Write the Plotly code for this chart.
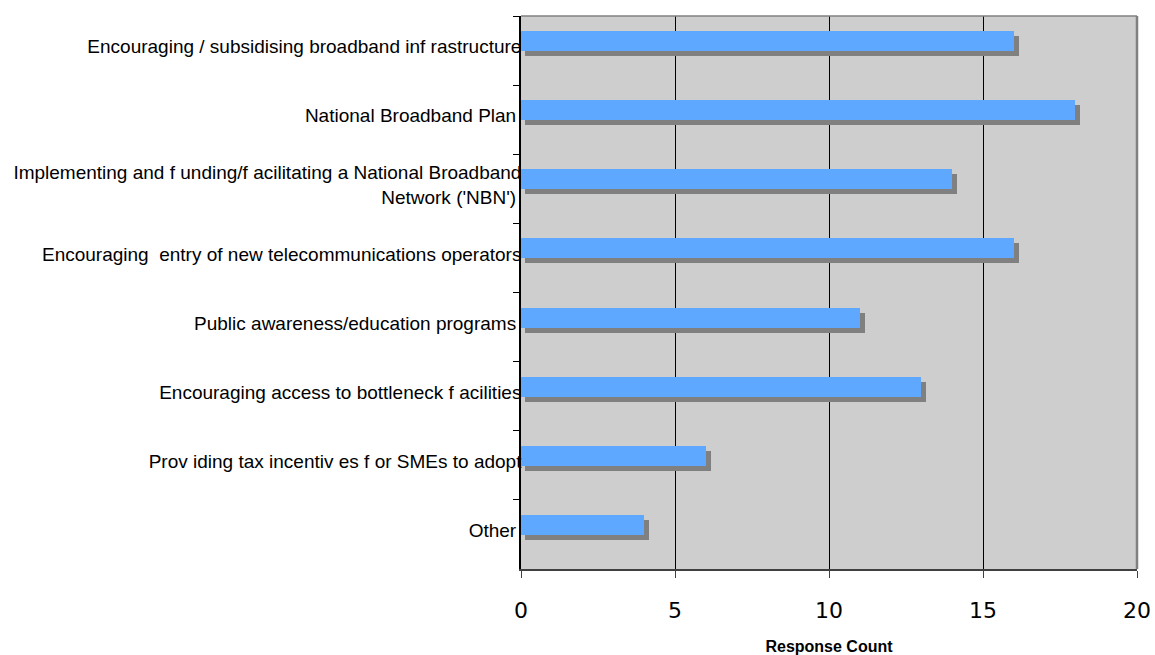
import plotly.graph_objects as go

categories = [
    "Encouraging / subsidising broadband inf rastructure",
    "National Broadband Plan ",
    "Implementing and f unding/f acilitating a National Broadband<br>Network ('NBN') ",
    "Encouraging  entry of new telecommunications operators",
    "Public awareness/education programs ",
    "Encouraging access to bottleneck f acilities",
    "Prov iding tax incentiv es f or SMEs to adopt",
    "Other ",
]
counts = [16, 18, 14, 16, 11, 13, 6, 4]

x_ticks = [0, 5, 10, 15, 20]

BAR = "#5FA8FF"
SHADOW = "#808080"
BG = "#CECECE"

fig = go.Figure()
# shadow
fig.add_trace(go.Bar(
    y=categories, x=[c + 0.04 for c in counts], base=0.12, orientation="h",
    width=0.29, offset=-0.21, marker=dict(color=SHADOW, line=dict(width=0)),
    hoverinfo="skip", showlegend=False,
))
# main bars
fig.add_trace(go.Bar(
    y=categories, x=counts, orientation="h",
    width=0.29, offset=-0.2825, marker=dict(color=BAR, line=dict(width=0)),
    showlegend=False,
))

fig.update_layout(
    width=1155, height=655,
    margin=dict(l=521, r=18, t=16, b=86, autoexpand=False),
    paper_bgcolor="white", plot_bgcolor=BG,
    barmode="overlay", bargap=0,
    font=dict(family="Liberation Sans, Arial, sans-serif", color="black"),
    xaxis=dict(
        range=[0, 20], tickvals=x_ticks, ticktext=[str(v) for v in x_ticks],
        showgrid=True, gridcolor="#000000", gridwidth=1,
        showline=True, linecolor="#404040", linewidth=2,
        ticks="outside", ticklen=7, tickcolor="#404040",
        tickfont=dict(family="DejaVu Sans", size=22, color="black"),
        ticklabelstandoff=14, zeroline=False, automargin=False,
        title=dict(text="<b>Response Count</b>", font=dict(family="Liberation Sans", size=16, color="black"), standoff=19),
    ),
    yaxis=dict(
        type="category", autorange="reversed", automargin=False,
        showgrid=False, showline=True, linecolor="black", linewidth=1.5,
        ticks="outside", ticklen=6, tickcolor="black", tickson="boundaries",
        tickfont=dict(family="Liberation Sans", size=19, color="black"),
        ticklabelstandoff=-6, ticklabelshift=4,
    ),
    shapes=[
        dict(type="line", xref="x domain", yref="y domain", x0=0, x1=1, y0=1, y1=1,
             line=dict(color="#808080", width=1.5)),
        dict(type="line", xref="x domain", yref="y domain", x0=1, x1=1, y0=0, y1=1,
             line=dict(color="#808080", width=2.5)),
    ],
)

fig.write_html("out.html", config={"displayModeBar": False},
               post_script="document.body.style.margin='0';document.body.style.padding='0';")
